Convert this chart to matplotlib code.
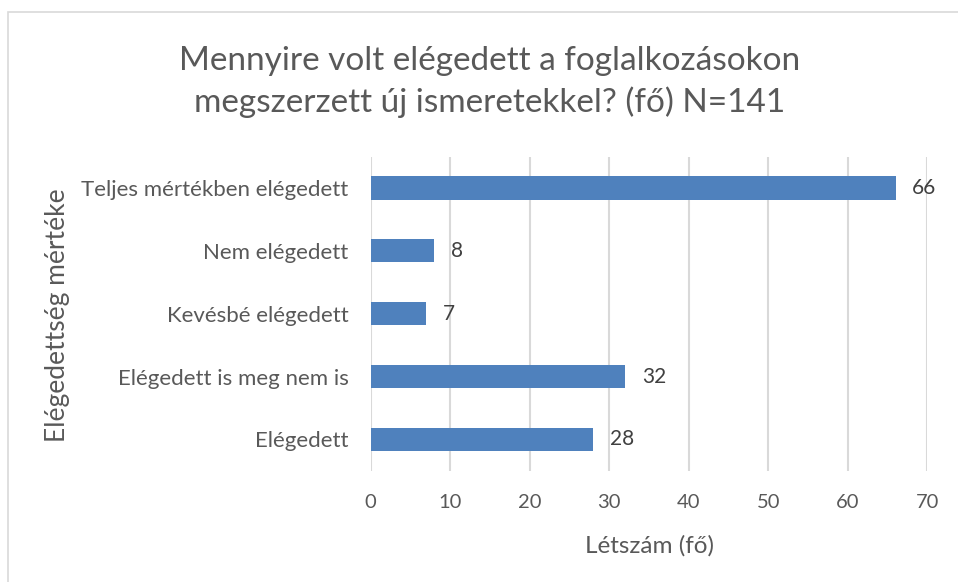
import matplotlib.pyplot as plt
from matplotlib.patches import Rectangle

plt.rcParams['font.family'] = ['Lato', 'DejaVu Sans']

categories = ["Elégedett", "Elégedett is meg nem is", "Kevésbé elégedett",
              "Nem elégedett", "Teljes mértékben elégedett"]
counts = [28, 32, 7, 8, 66]
xticks = [0, 10, 20, 30, 40, 50, 60, 70]

fig = plt.figure(figsize=(9.58, 5.82), dpi=100)
ax = fig.add_axes([0.387, 0.191, 0.581, 0.540])

# chart border like in the office export
fig.patches.append(Rectangle((8 / 958, -0.1), 1.2, 1 - 12 / 582 + 0.1,
                             transform=fig.transFigure, fill=False,
                             edgecolor='#d9d9d9', linewidth=1.2))

y = range(len(categories))
ax.barh(y, counts, height=0.37, color='#4f81bd', zorder=3)
for yi, v in zip(y, counts):
    ax.text(v + 2.1, yi, str(v), va='center', ha='left', fontsize=15, color='#404040')

ax.set_xlim(0, 70)
ax.set_ylim(-0.5, len(categories) - 0.5)
ax.set_xticks(xticks)
ax.set_yticks(list(y))
ax.set_yticklabels(categories)
ax.grid(axis='x', color='#d9d9d9', linewidth=1.5, zorder=0)
for s in ax.spines.values():
    s.set_visible(False)
ax.tick_params(length=0, labelcolor='#595959')
ax.tick_params(axis='x', pad=17, labelsize=14.5)
ax.tick_params(axis='y', pad=16, labelsize=16)

ax.set_xlabel("Létszám (fő)", fontsize=17.5, color='#595959', labelpad=17)
fig.text(58 / 958, 1 - 315 / 582, "Elégedettség mértéke", rotation=90,
         ha='center', va='center', fontsize=19, color='#595959')

fig.text(490 / 958, 1 - 82 / 582,
         "Mennyire volt elégedett a foglalkozásokon\nmegszerzett új ismeretekkel? (fő) N=141",
         ha='center', va='center', fontsize=24, color='#595959', linespacing=1.38)

fig.savefig("out.png", dpi=100)
